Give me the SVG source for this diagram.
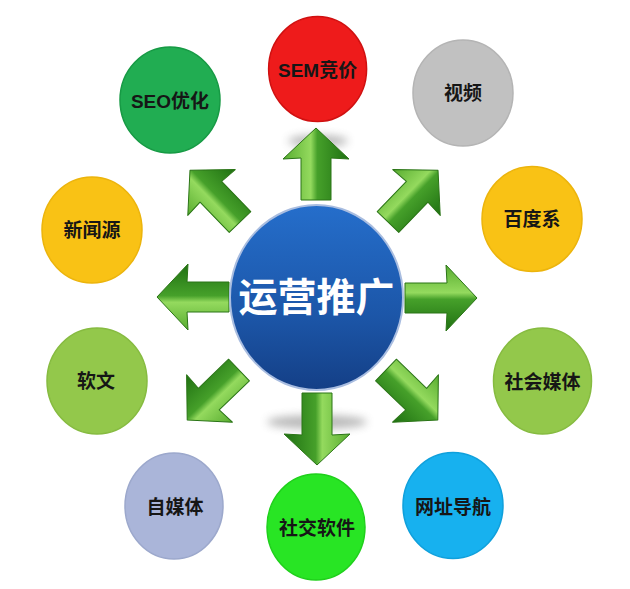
<svg xmlns="http://www.w3.org/2000/svg" width="630" height="589" viewBox="0 0 630 589">
  <style>
    .lbl { font-family: 'Liberation Sans', 'Noto Sans CJK SC', sans-serif; font-weight: bold; font-size: 19px; fill: #161616; text-anchor: middle; dominant-baseline: central; }
    .hub { font-family: 'Liberation Sans', 'Noto Sans CJK SC', sans-serif; font-weight: bold; font-size: 39px; fill: #ffffff; text-anchor: middle; dominant-baseline: central; }
    .arr { fill: url(#arrGrad); stroke: #2a7416; stroke-width: 1; stroke-linejoin: round; }
  </style>
  <defs>
    <linearGradient id="arrGrad" x1="0" y1="0" x2="0" y2="1">
      <stop offset="0" stop-color="#58ac30"/>
      <stop offset="0.42" stop-color="#94da5e"/>
      <stop offset="0.52" stop-color="#46a02a"/>
      <stop offset="1" stop-color="#1f7012"/>
    </linearGradient>
    <linearGradient id="hubGrad" x1="0" y1="0" x2="0" y2="1">
      <stop offset="0" stop-color="#256ecb"/>
      <stop offset="0.6" stop-color="#1c56a8"/>
      <stop offset="1" stop-color="#143f86"/>
    </linearGradient>
    <filter id="blur" x="-50%" y="-100%" width="200%" height="300%">
      <feGaussianBlur stdDeviation="4"/>
    </filter>
    <path id="arrow" d="M0,-15 L42,-15 L41,-33 L72,0 L41,33 L42,15 L0,15 Z"/>
  </defs>
  <rect width="630" height="589" fill="#ffffff"/>

  <g id="connectors">
    <ellipse cx="318" cy="141" rx="30" ry="6" fill="#666" opacity="0.45" filter="url(#blur)"/>
    <ellipse cx="317" cy="422" rx="50" ry="7" fill="#666" opacity="0.45" filter="url(#blur)"/>
    <use href="#arrow" class="arr" transform="translate(316,200) rotate(-90)"/>
    <use href="#arrow" class="arr" transform="translate(388,222) rotate(-46)"/>
    <use href="#arrow" class="arr" transform="translate(405,298) rotate(0)"/>
    <use href="#arrow" class="arr" transform="translate(386,370) rotate(44)"/>
    <use href="#arrow" class="arr" transform="translate(317,393) rotate(90)"/>
    <use href="#arrow" class="arr" transform="translate(239,370) rotate(136)"/>
    <use href="#arrow" class="arr" transform="translate(229,297) rotate(180)"/>
    <use href="#arrow" class="arr" transform="translate(240,222) rotate(-134)"/>
  </g>

  <g id="hub">
    <ellipse cx="316.5" cy="297.5" rx="86.5" ry="92.5" fill="url(#hubGrad)" stroke="#a9bde0" stroke-width="2"/>
    <text class="hub" x="316.5" y="297">运营推广</text>
  </g>

  <g id="sem">
    <ellipse cx="317.6" cy="69" rx="49" ry="52.5" fill="#ee1b1b" stroke="#d01010" stroke-width="1.5"/>
    <text class="lbl" x="317.6" y="70">SEM竞价</text>
  </g>
  <g id="video">
    <ellipse cx="463" cy="93" rx="50" ry="53" fill="#c1c1c1" stroke="#b4b4b4" stroke-width="1.5"/>
    <text class="lbl" x="463" y="93">视频</text>
  </g>
  <g id="baidu">
    <ellipse cx="532" cy="219" rx="50" ry="52.5" fill="#f9c215" stroke="#ecb40c" stroke-width="1.5"/>
    <text class="lbl" x="532" y="219">百度系</text>
  </g>
  <g id="social-media">
    <ellipse cx="542.5" cy="381" rx="49" ry="53" fill="#93c84b" stroke="#86bb40" stroke-width="1.5"/>
    <text class="lbl" x="542.5" y="382">社会媒体</text>
  </g>
  <g id="nav">
    <ellipse cx="453" cy="505.5" rx="50" ry="53" fill="#17b1ef" stroke="#0fa0dc" stroke-width="1.5"/>
    <text class="lbl" x="453" y="507">网址导航</text>
  </g>
  <g id="social-app">
    <ellipse cx="316" cy="527" rx="49" ry="53" fill="#28e524" stroke="#1fd01b" stroke-width="1.5"/>
    <text class="lbl" x="317" y="528">社交软件</text>
  </g>
  <g id="self-media">
    <ellipse cx="174" cy="506" rx="49" ry="53" fill="#aab5d9" stroke="#9ca8cc" stroke-width="1.5"/>
    <text class="lbl" x="175" y="507">自媒体</text>
  </g>
  <g id="article">
    <ellipse cx="97" cy="381" rx="50" ry="53" fill="#93c84b" stroke="#86bb40" stroke-width="1.5"/>
    <text class="lbl" x="96" y="381">软文</text>
  </g>
  <g id="news">
    <ellipse cx="92" cy="230" rx="50" ry="53" fill="#f9c215" stroke="#ecb40c" stroke-width="1.5"/>
    <text class="lbl" x="92" y="230">新闻源</text>
  </g>
  <g id="seo">
    <ellipse cx="170" cy="100" rx="50" ry="53" fill="#21ad52" stroke="#169a44" stroke-width="1.5"/>
    <text class="lbl" x="170" y="101">SEO优化</text>
  </g>
</svg>
